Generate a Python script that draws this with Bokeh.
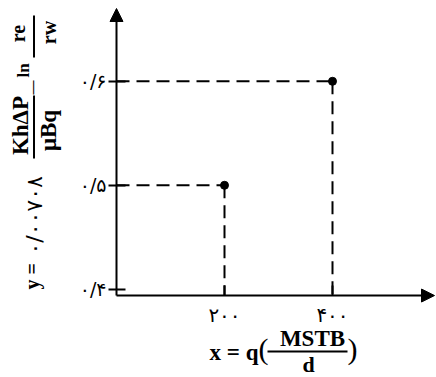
import math
from bokeh.plotting import figure
from bokeh.models import Range1d, FixedTicker, Arrow, NormalHead, Label
from bokeh.embed import file_html
from bokeh.resources import INLINE

# ---- data ----
point_x = [200, 400]
point_y = [0.5, 0.6]
x_ticks = [200, 400]
x_tick_labels = ["۲۰۰", "۴۰۰"]
y_ticks = [0.4, 0.5, 0.6]
y_tick_labels = ["۰/۴", "۰/۵", "۰/۶"]
x_origin = 0
y_origin = 0.394
y_top = 0.670

W, H = 436, 377
PX_PER_X = 108 / 200      # screen px per x unit
PX_PER_Y = 1040           # screen px per y unit
ORIGIN_PX, TOP_PX = 116, 8

X0 = x_origin - ORIGIN_PX / PX_PER_X
X1 = X0 + W / PX_PER_X
Y1 = y_top + TOP_PX / PX_PER_Y
Y0 = Y1 - H / PX_PER_Y

p = figure(width=W, height=H, x_range=Range1d(X0, X1), y_range=Range1d(Y0, Y1),
           output_backend="svg", toolbar_location=None, title=None,
           min_border_left=0, min_border_right=0, min_border_top=0, min_border_bottom=0)
p.outline_line_color = None
p.grid.visible = False

# page px -> data coords
def X(px):
    return X0 + px / PX_PER_X

def Y(py):
    return Y1 - py / PX_PER_Y

# axes, placed at the origin inside the frame
for ax in (p.xaxis[0], p.yaxis[0]):
    ax.axis_line_color = None
    ax.major_tick_line_color = "black"
    ax.major_tick_line_width = 2
    ax.minor_tick_line_color = None
    ax.major_label_text_font = "DejaVu Sans"
    ax.major_label_text_color = "black"

p.xaxis.fixed_location = y_origin
p.xaxis.ticker = FixedTicker(ticks=x_ticks)
p.xaxis.major_label_overrides = {t: l for t, l in zip(x_ticks, x_tick_labels)}
p.xaxis.major_tick_in = 10
p.xaxis.major_tick_out = 0
p.xaxis.major_label_standoff = 7
p.xaxis.major_label_text_font_size = "20px"

p.yaxis.fixed_location = x_origin
p.yaxis.ticker = FixedTicker(ticks=y_ticks)
p.yaxis.major_label_overrides = {t: l for t, l in zip(y_ticks, y_tick_labels)}
p.yaxis.major_tick_in = 9
p.yaxis.major_tick_out = 8
p.yaxis.major_label_standoff = 2
p.yaxis.major_label_text_font_size = "19px"

# axis arrows
p.add_layout(Arrow(end=NormalHead(size=13, fill_color="black", line_color="black"),
                   x_start=x_origin, y_start=y_origin, x_end=x_origin, y_end=y_top,
                   line_width=2))
p.add_layout(Arrow(end=NormalHead(size=13, fill_color="black", line_color="black"),
                   x_start=x_origin, y_start=y_origin, x_end=X(434), y_end=y_origin,
                   line_width=2))

# dashed guide lines
p.segment(x0=[x_origin] * len(point_x), y0=point_y, x1=point_x, y1=point_y,
          line_color="black", line_width=2, line_dash="13 7")
p.segment(x0=point_x, y0=point_y, x1=point_x, y1=[y_origin] * len(point_x),
          line_color="black", line_width=2, line_dash="13 7")
p.scatter(point_x, point_y, size=8, color="black")

SERIF = "Liberation Serif"
R = math.pi / 2

def lab(text, px, py, size, align="left", angle=0.0, font=SERIF, bold=True):
    """(px, py): page position of the text's baseline point; anchored at the em-box middle."""
    shift = 0.34 * size
    if angle:
        px -= shift
    else:
        py -= shift
    p.add_layout(Label(x=X(px), y=Y(py), text=text, angle=angle, text_align=align,
                       text_baseline="middle", text_font=font, text_font_size=f"{size}px",
                       text_font_style="bold" if bold else "normal", text_color="black"))

def bar(px0, py0, px1, py1):
    p.add_layout(Arrow(start=None, end=None, x_start=X(px0), y_start=Y(py0),
                       x_end=X(px1), y_end=Y(py1), line_width=2, line_color="black"))

AX = 33.5  # math axis of the rotated y title (page x)
# y-axis title (rotated, reading upward)
lab("y =", 38, 289, 20, angle=R)
lab("۰/۰۰۷۰۸", 41, 254, 22, angle=R, font="DejaVu Sans", bold=False)
bar(AX, 158, AX, 95)
lab("KhΔP", 28, 125, 23, align="center", angle=R)
lab("μBq", 56, 130, 23, align="center", angle=R)
lab("—", 37, 87, 14, align="center", angle=R)
lab("ln", 29, 70, 17, align="center", angle=R)
bar(AX, 57, AX, 15)
lab("re", 24, 33, 20, align="center", angle=R)
lab("rw", 55, 32, 20, align="center", angle=R)

# x-axis title
lab("x = q", 258, 360, 23, align="right")
lab("(", 258, 358, 30, bold=False)
lab("MSTB", 312, 346, 23, align="center")
bar(267, 351, 347, 351)
lab("d", 308, 371, 22, align="center")
lab(")", 347, 358, 30, bold=False)

open("out.html", "w").write(file_html(p, INLINE))
